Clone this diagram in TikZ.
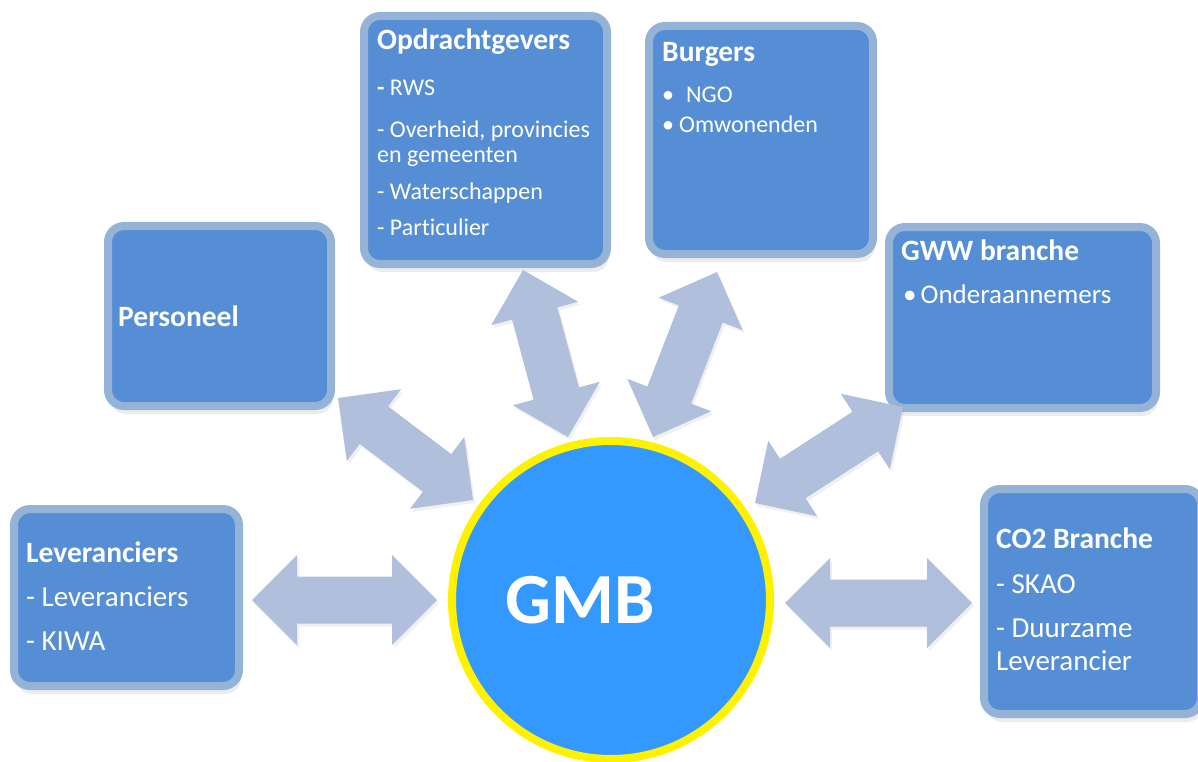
\documentclass[tikz,border=0pt]{standalone}
\usepackage{fontspec}
\setmainfont[Ligatures=NoCommon]{Carlito}
\usetikzlibrary{calc,shadows}

\definecolor{boxfill}{RGB}{85,142,213}
\definecolor{boxedge}{RGB}{149,179,215}
\definecolor{arrowfill}{RGB}{176,192,220}
\definecolor{gmbfill}{RGB}{51,153,255}

% double block arrow from tip #1 to tip #2
\newcommand{\dblarrow}[2]{%
  \coordinate (h1) at ($(#1)!\headlen!(#2)$);
  \coordinate (h2) at ($(#2)!\headlen!(#1)$);
  \fill[blockarrow] (#1) -- ($(h1)!\headw!90:(#2)$) -- ($(h1)!\shaftw!90:(#2)$)
    -- ($(h2)!\shaftw!-90:(#1)$) -- ($(h2)!\headw!-90:(#1)$) -- (#2)
    -- ($(h2)!\headw!90:(#1)$) -- ($(h2)!\shaftw!90:(#1)$)
    -- ($(h1)!\shaftw!-90:(#2)$) -- ($(h1)!\headw!-90:(#2)$) -- cycle;
}

\begin{document}
\begin{tikzpicture}[x=1pt,y=-1pt]

\def\headlen{45pt}
\def\headw{45pt}
\def\shaftw{23.5pt}

\tikzset{box/.style = {draw=boxedge, fill=boxfill, line width=8pt, rounded corners=16pt, inner sep=0pt,
           drop shadow={opacity=0.15, shadow xshift=2pt, shadow yshift=-8pt}},
         blockarrow/.style = {fill=arrowfill, drop shadow={opacity=0.12, shadow xshift=2pt, shadow yshift=-3pt}},
         title/.style = {anchor=base west, inner sep=0pt, text=white, font=\bfseries\fontsize{29.5}{34}\selectfont},
         bodytxt/.style = {anchor=base west, inner sep=0pt, text=white, align=left}}

\useasboundingbox (0,0) rectangle (1198,762);

% boxes
\node[box, minimum width=243pt, minimum height=248pt] (opd)  at (485.5,140) {};
\node[box, minimum width=224pt, minimum height=228pt] (burg) at (761,140) {};
\node[box, minimum width=223pt, minimum height=180pt] (pers) at (219.5,316) {};
\node[box, minimum width=267pt, minimum height=181pt] (gww)  at (1022.5,317.5) {};
\node[box, minimum width=225pt, minimum height=177pt] (lev)  at (126.5,597.5) {};
\node[box, minimum width=217pt, minimum height=225pt] (co2)  at (1092.5,601.5) {};

% arrows
\coordinate (lev1) at (252,600);
\coordinate (lev2) at (437,600);
\coordinate (co21) at (785,603);
\coordinate (co22) at (972,603);
\coordinate (pers1) at (338,398);
\coordinate (pers2) at (473,500);
\coordinate (opd1) at (523,270);
\coordinate (opd2) at (568,437);
\coordinate (burg1) at (717,272);
\coordinate (burg2) at (653,437);
\coordinate (gww1) at (903,407);
\coordinate (gww2) at (755,503);

\dblarrow{lev1}{lev2}
\dblarrow{co21}{co22}
\dblarrow{pers1}{pers2}
\dblarrow{opd1}{opd2}
\dblarrow{burg1}{burg2}
\dblarrow{gww1}{gww2}

% centre
\node[circle, draw=yellow, line width=8pt, fill=gmbfill, minimum size=318pt, inner sep=0pt] (gmb) at (611,600) {};
\node[anchor=base west, inner sep=0pt, text=white, font=\bfseries\fontsize{72}{80}\selectfont] (gmbtxt) at (505,623) {GMB};

% texts (body nodes sit on the baseline of their last line)
\node[title] (opdtitle) at (377,50) {Opdrachtgevers};
\node[bodytxt, font=\fontsize{24}{25}\selectfont] (opdbody) at (377,235)
  {\textbf{-} RWS\\[16pt] - Overheid, provincies\\ en gemeenten\\[12pt] - Waterschappen\\[11pt] - Particulier};

\node[title] (burgtitle) at (662,62) {Burgers};
\node[bodytxt, font=\fontsize{24}{25}\selectfont] (burgbody) at (662,133)
  {•\hspace{12pt}NGO\\[5pt] •\hspace{5pt}Omwonenden};

\node[title] (gwwtitle) at (901,260) {GWW branche};
\node[bodytxt, font=\fontsize{27}{30}\selectfont] (gwwbody) at (903,303) {•\hspace{4pt}Onderaannemers};

\node[title] (perstitle) at (118,326) {Personeel};

\node[title] (levtitle) at (26,562) {Leveranciers};
\node[bodytxt, font=\fontsize{29}{33}\selectfont] (levbody) at (26,650)
  {- Leveranciers\\[11pt] - KIWA};

\node[title] (co2title) at (996,548) {CO2 Branche};
\node[bodytxt, font=\fontsize{29}{33}\selectfont] (co2body) at (996,670)
  {- SKAO\\[11pt] - Duurzame\\ Leverancier};

\end{tikzpicture}
\end{document}
